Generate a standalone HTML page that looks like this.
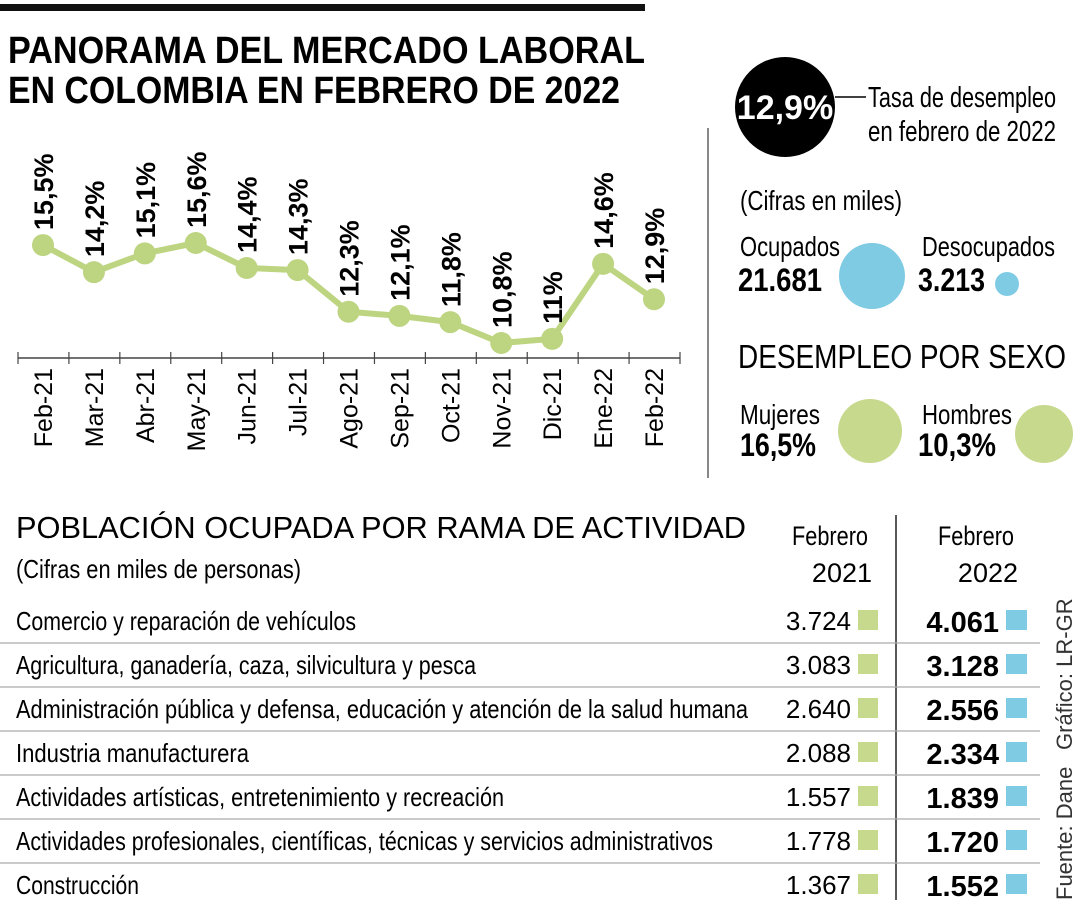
<!DOCTYPE html>
<html><head><meta charset="utf-8"><style>
html,body{margin:0;padding:0;background:#fff}
svg{display:block;font-family:"Liberation Sans Narrow","Liberation Sans",sans-serif}
</style></head><body>
<svg id="s" width="1080" height="900" viewBox="0 0 1080 900">
<rect x="0" y="4" width="645" height="7" fill="#111"/>
<text x="8" y="63" font-size="38" font-weight="bold" textLength="637" lengthAdjust="spacingAndGlyphs">PANORAMA DEL MERCADO LABORAL</text>
<text x="8" y="103" font-size="38" font-weight="bold" textLength="612" lengthAdjust="spacingAndGlyphs">EN COLOMBIA EN FEBRERO DE 2022</text>
<g id="chart"></g>
<line x1="708" y1="128" x2="708" y2="478" stroke="#888" stroke-width="2"/>
<circle cx="785" cy="107" r="50" fill="#000"/>
<text x="785" y="119" font-size="34" font-weight="bold" fill="#fff" text-anchor="middle">12,9%</text>
<line x1="835" y1="97" x2="866" y2="97" stroke="#000" stroke-width="1.5"/>
<text x="868" y="107" font-size="29" textLength="188" lengthAdjust="spacingAndGlyphs">Tasa de desempleo</text>
<text x="868" y="141" font-size="29" textLength="188" lengthAdjust="spacingAndGlyphs">en febrero de 2022</text>
<text x="740" y="210" font-size="28" textLength="162" lengthAdjust="spacingAndGlyphs">(Cifras en miles)</text>
<text x="740" y="256" font-size="28" textLength="100" lengthAdjust="spacingAndGlyphs">Ocupados</text>
<text x="738" y="291" font-size="32" font-weight="bold" textLength="84" lengthAdjust="spacingAndGlyphs">21.681</text>
<circle cx="872" cy="276" r="33" fill="#80cbe4"/>
<text x="922" y="256" font-size="28" textLength="133" lengthAdjust="spacingAndGlyphs">Desocupados</text>
<text x="918" y="291" font-size="32" font-weight="bold" textLength="67" lengthAdjust="spacingAndGlyphs">3.213</text>
<circle cx="1007" cy="284" r="12" fill="#80cbe4"/>
<text x="738" y="368" font-size="33" textLength="328" lengthAdjust="spacingAndGlyphs">DESEMPLEO POR SEXO</text>
<text x="740" y="424" font-size="28" textLength="80" lengthAdjust="spacingAndGlyphs">Mujeres</text>
<text x="740" y="456" font-size="32" font-weight="bold" textLength="76" lengthAdjust="spacingAndGlyphs">16,5%</text>
<circle cx="870" cy="431" r="32" fill="#c6d98c"/>
<text x="922" y="424" font-size="28" textLength="90" lengthAdjust="spacingAndGlyphs">Hombres</text>
<text x="918" y="456" font-size="32" font-weight="bold" textLength="78" lengthAdjust="spacingAndGlyphs">10,3%</text>
<circle cx="1044" cy="434" r="29" fill="#c6d98c"/>
<text x="16" y="538" font-size="31" textLength="730" lengthAdjust="spacingAndGlyphs">POBLACIÓN OCUPADA POR RAMA DE ACTIVIDAD</text>
<text x="16" y="578" font-size="26" textLength="285" lengthAdjust="spacingAndGlyphs">(Cifras en miles de personas)</text>
<text x="792" y="545" font-size="27" textLength="76" lengthAdjust="spacingAndGlyphs">Febrero</text>
<text x="872" y="582" font-size="27" text-anchor="end">2021</text>
<text x="938" y="545" font-size="27" textLength="76" lengthAdjust="spacingAndGlyphs">Febrero</text>
<text x="1018" y="582" font-size="27" text-anchor="end">2022</text>
<line x1="896" y1="515" x2="896" y2="900" stroke="#222" stroke-width="1.5"/>
<g id="table"></g>
<text transform="translate(1072,750) rotate(-90)" font-size="22" fill="#333">Gráfico: LR-GR</text>
<text transform="translate(1072,900) rotate(-90)" font-size="22" fill="#333">Fuente: Dane</text>
</svg>
<script>
const months=["Feb-21","Mar-21","Abr-21","May-21","Jun-21","Jul-21","Ago-21","Sep-21","Oct-21","Nov-21","Dic-21","Ene-22","Feb-22"];
const rates=[15.5,14.2,15.1,15.6,14.4,14.3,12.3,12.1,11.8,10.8,11,14.6,12.9];
const rateLabels=["15,5%","14,2%","15,1%","15,6%","14,4%","14,3%","12,3%","12,1%","11,8%","10,8%","11%","14,6%","12,9%"];
const activities=["Comercio y reparación de vehículos","Agricultura, ganadería, caza, silvicultura y pesca","Administración pública y defensa, educación y atención de la salud humana","Industria manufacturera","Actividades artísticas, entretenimiento y recreación","Actividades profesionales, científicas, técnicas y servicios administrativos","Construcción"];
const v2021=["3.724","3.083","2.640","2.088","1.557","1.778","1.367"];
const v2022=["4.061","3.128","2.556","2.334","1.839","1.720","1.552"];
const labelWidths=[340,460,732,233,488,697,123];
const NS="http://www.w3.org/2000/svg";
function mk(tag,attrs,parent,txt){const e=document.createElementNS(NS,tag);for(const k in attrs)e.setAttribute(k,attrs[k]);if(txt!==undefined)e.textContent=txt;parent.appendChild(e);return e;}
const chart=document.getElementById('chart');
const xS=i=>43+i*(654-43)/(months.length-1);
const yS=v=>243+(15.6-v)*20.83;
const GREEN="#bdd481";
let ax=mk('line',{x1:18,y1:358,x2:680,y2:358,stroke:'#444','stroke-width':1.5},chart);


for(let i=0;i<=months.length;i++){const tx=18+i*(680-18)/months.length;
 let t=mk('line',{x1:tx,y1:352,x2:tx,y2:364,stroke:'#444','stroke-width':1.2},chart);
 
 }
let pts=rates.map((v,i)=>xS(i)+','+yS(v)).join(' ');
let pl=mk('polyline',{points:pts,fill:'none',stroke:GREEN,'stroke-width':6,'stroke-linejoin':'round'},chart);


rates.forEach((v,i)=>{
 let c=mk('circle',{cx:xS(i),cy:yS(v),r:11,fill:GREEN},chart);
 
 
 let lb=mk('text',{transform:`translate(${xS(i)+10},${yS(v)-15}) rotate(-90)`,'font-size':27,'font-weight':'bold'},chart,rateLabels[i]);
 
 
 let ml=mk('text',{transform:`translate(${xS(i)+9},368) rotate(-90)`,'font-size':25,'text-anchor':'end'},chart,months[i]);
 
 
});
const tb=document.getElementById('table');
activities.forEach((a,i)=>{
 const y=630+i*44;
 let t=mk('text',{x:16,y:y,'font-size':26,textLength:labelWidths[i],lengthAdjust:'spacingAndGlyphs'},tb,a);
 
 
 let a1=mk('text',{x:851,y:y,'font-size':26,'text-anchor':'end'},tb,v2021[i]);
 
 
 let s1=mk('rect',{x:858,y:y-20,width:20,height:20,fill:'#c6d98c'},tb);
 
 
 let a2=mk('text',{x:999,y:y+2,'font-size':29,'font-weight':'bold','text-anchor':'end'},tb,v2022[i]);
 
 
 let s2=mk('rect',{x:1006,y:y-20,width:21,height:20,fill:'#80cbe4'},tb);
 
 
 if(i<activities.length-1){
  let l=mk('line',{x1:0,y1:y+13,x2:1040,y2:y+13,stroke:'#aaa','stroke-width':1.2},tb);
  
  
 }
});
</script>
</body></html>
